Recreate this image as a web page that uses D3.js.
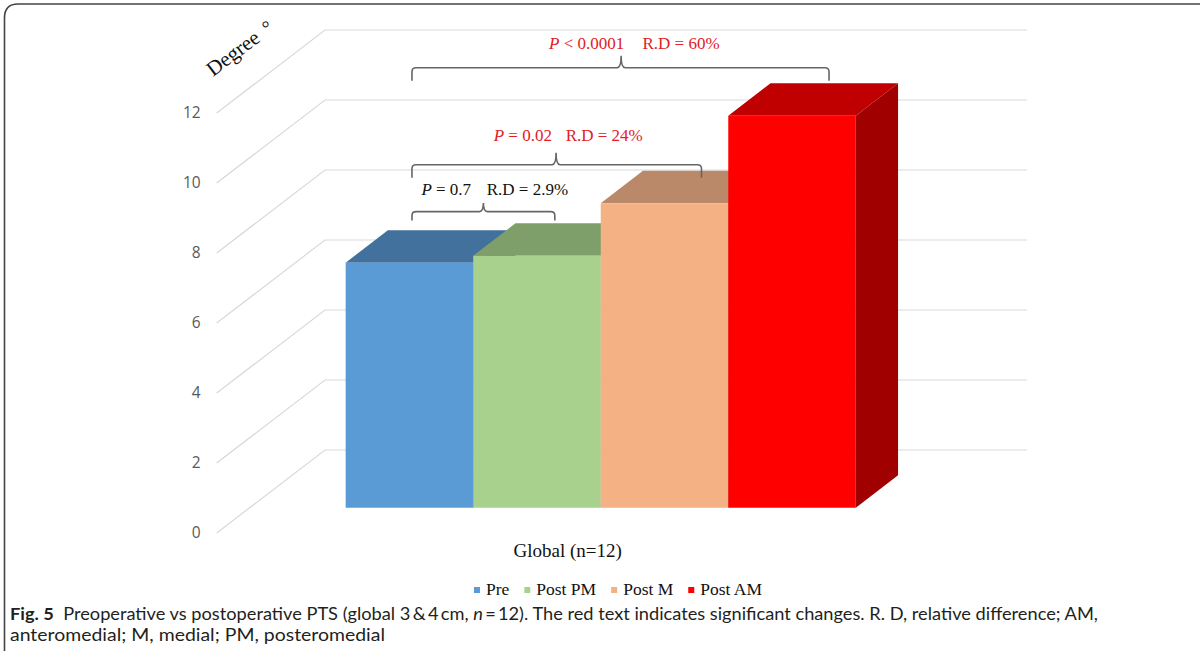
<!DOCTYPE html>
<html>
<head>
<meta charset="utf-8">
<script src="https://cdn.jsdelivr.net/npm/d3@7"></script>
<style>
  html, body { margin: 0; padding: 0; background: #fff; }
  svg { display: block; }
</style>
</head>
<body>
<svg id="chart" width="1200" height="651"></svg>
<script>
// ---------------- data ----------------
const categories = ["Global (n=12)"];
const series = ["Pre", "Post PM", "Post M", "Post AM"];
const values = [7.0, 7.2, 8.7, 11.2];
const yTicks = [0, 2, 4, 6, 8, 10, 12];
const yLabel = "Degree";

// annotations (comparisons against "Pre"), positions in series units / data units
const annP = ["= 0.7", "= 0.02", "< 0.0001"];
const annRD = ["R.D = 2.9%", "R.D = 24%", "R.D = 60%"];
const annSig = [false, true, true];
const annFrom = [0.52, 0.52, 0.52];
const annTo = [1.64, 2.79, 3.79];
const annPeak = [1.08, 1.65, 2.16];
const annLevel = [8.46, 9.8, 12.57];
const annTextLevel = [8.93, 10.49, 13.1];
const annPStart = [0.594, 1.161, 1.595];
const annRDStart = [1.106, 1.725, 2.327];

const captionBold = "Fig. 5";
const captionLine1a = "  Preoperative vs postoperative PTS (global 3\u2009&\u20094\u2009cm, ";
const captionItalic = "n";
const captionLine1b = "\u2009=\u200912). The red text indicates significant changes. R. D, relative difference; AM,";
const captionLine2 = "anteromedial; M, medial; PM, posteromedial";

// ---------------- styles ----------------
const frontColors = ["#5b9bd5", "#a9d18e", "#f4b183", "#ff0000"];
const topColors = ["#41719c", "#7f9f6a", "#b9896a", "#c00000"];
const sideColors = ["#35608a", "#6e8a5b", "#a07559", "#a00000"];
const serif = "'Liberation Serif', 'Times New Roman', serif";

const svg = d3.select("#chart");

// ---------------- projection ----------------
const DX = 108.3, DY = 83;          // offset from front plane to back wall
const zFront = 0.305, zBack = 0.695; // bar depth range
const yFront = d3.scaleLinear().domain([0, 12]).range([533, 113]);
const xBand = d3.scaleBand().domain(categories).range([216.7, 918.7]).paddingOuter(0.188).paddingInner(0);
const xSeries = d3.scaleBand().domain(series).range([0, xBand.bandwidth()]).padding(0);
const proj = (x, v, z) => [x + z * DX, yFront(v) - z * DY];
const wallRight = 1027;

// ---------------- frame ----------------
svg.append("path")
  .attr("d", "M4.5,651 V18 Q4.5,4 18,4 H1200")
  .attr("fill", "none").attr("stroke", "#444").attr("stroke-width", 1.6);

// ---------------- gridlines ----------------
const grid = svg.append("g");
yTicks.forEach(t => {
  const a = proj(xBand.range()[0], t, 0);
  const b = proj(xBand.range()[0], t, 1);
  grid.append("path")
    .attr("d", `M${a[0]},${a[1]} L${b[0]},${b[1]} H${wallRight}`)
    .attr("fill", "none").attr("stroke", "#d9d9d9").attr("stroke-width", 1.2);
});

// ---------------- y axis ----------------
const yAxis = d3.axisLeft(yFront).tickValues(yTicks).tickSize(0).tickPadding(16);
const yg = svg.append("g").attr("transform", `translate(${xBand.range()[0]},0)`).call(yAxis);
yg.select(".domain").remove();
yg.selectAll("text")
  .attr("fill", "#595959")
  .style("font-family", "'Open Sans', 'Noto Sans', sans-serif")
  .style("font-size", "15.5px");

// y label
const yl = svg.append("text")
  .attr("transform", "translate(213,77) rotate(-37)")
  .style("font-family", serif).style("font-size", "21px").attr("fill", "#111");
yl.append("tspan").text(yLabel);
yl.append("tspan").attr("dx", 9).attr("dy", 0).style("font-size", "20px").text("\u00b0");

// ---------------- x axis (category) ----------------
const xAxis = d3.axisBottom(xBand).tickSize(0).tickPadding(11);
const xg = svg.append("g").attr("transform", `translate(0,${yFront(0)})`).call(xAxis);
xg.select(".domain").remove();
xg.selectAll("text")
  .attr("fill", "#111")
  .style("font-family", serif)
  .style("font-size", "19px");

// ---------------- bars ----------------
const bars = svg.append("g");
series.forEach((s, i) => {
  const x0 = xBand(categories[0]) + xSeries(s);
  const x1 = x0 + xSeries.bandwidth();
  const v = values[i];
  const poly = pts => "M" + pts.map(p => p.join(",")).join("L") + "Z";
  bars.append("path")
    .attr("d", poly([proj(x1, 0, zFront), proj(x1, 0, zBack), proj(x1, v, zBack), proj(x1, v, zFront)]))
    .attr("fill", sideColors[i]);
  bars.append("path")
    .attr("d", poly([proj(x0, v, zFront), proj(x1, v, zFront), proj(x1, v, zBack), proj(x0, v, zBack)]))
    .attr("fill", topColors[i]);
  bars.append("path")
    .attr("d", poly([proj(x0, 0, zFront), proj(x1, 0, zFront), proj(x1, v, zFront), proj(x0, v, zFront)]))
    .attr("fill", frontColors[i]);
});

// ---------------- annotations ----------------
const sx = u => xBand(categories[0]) + u * xSeries.bandwidth() + zFront * DX;
const sy = v => yFront(v) - zFront * DY;
const ann = svg.append("g");
annP.forEach((p, i) => {
  const xl = sx(annFrom[i]), xr = sx(annTo[i]), xp = sx(annPeak[i]), y = sy(annLevel[i]);
  const leg = i === 0 ? 9 : 13, pk = i === 0 ? 8.5 : 12, r = 4;
  const d = `M${xl},${y + leg} V${y + r} Q${xl},${y} ${xl + r},${y} H${xp - r} Q${xp},${y} ${xp},${y - pk} ` +
            `Q${xp},${y} ${xp + r},${y} H${xr - r} Q${xr},${y} ${xr},${y + r} V${y + leg}`;
  ann.append("path").attr("d", d).attr("fill", "none").attr("stroke", "#666").attr("stroke-width", 1.6);
  const col = annSig[i] ? "#e3201f" : "#111";
  const ty = sy(annTextLevel[i]);
  const t1 = ann.append("text").attr("x", sx(annPStart[i])).attr("y", ty)
    .style("font-family", serif).style("font-size", "17px").attr("fill", col);
  t1.append("tspan").style("font-style", "italic").text("P");
  t1.append("tspan").text(" " + p);
  ann.append("text").attr("x", sx(annRDStart[i])).attr("y", ty)
    .style("font-family", serif).style("font-size", "17px").attr("fill", col).text(annRD[i]);
});

// ---------------- legend ----------------
const lg = svg.append("g");
let lx = 474;
series.forEach((s, i) => {
  lg.append("rect").attr("x", lx).attr("y", 587).attr("width", 6).attr("height", 6).attr("fill", frontColors[i]);
  const t = lg.append("text").attr("x", lx + 12).attr("y", 594.5)
    .style("font-family", serif).style("font-size", "17.5px").attr("fill", "#111").text(s);
  lx += 12 + t.node().getComputedTextLength() + 15;
});

// ---------------- caption ----------------
const capFont = "Lato, 'Open Sans', sans-serif";
const c1 = svg.append("text").attr("x", 10).attr("y", 620)
  .style("font-family", capFont).style("font-size", "17.5px").attr("fill", "#231f20")
  .attr("textLength", 1088).attr("lengthAdjust", "spacingAndGlyphs")
  .style("white-space", "pre");
c1.append("tspan").style("font-weight", "bold").text(captionBold);
c1.append("tspan").text(captionLine1a);
c1.append("tspan").style("font-style", "italic").text(captionItalic);
c1.append("tspan").text(captionLine1b);
svg.append("text").attr("x", 10).attr("y", 641)
  .style("font-family", capFont).style("font-size", "17.5px").attr("fill", "#231f20")
  .attr("textLength", 375).attr("lengthAdjust", "spacingAndGlyphs")
  .text(captionLine2);
</script>
</body>
</html>
